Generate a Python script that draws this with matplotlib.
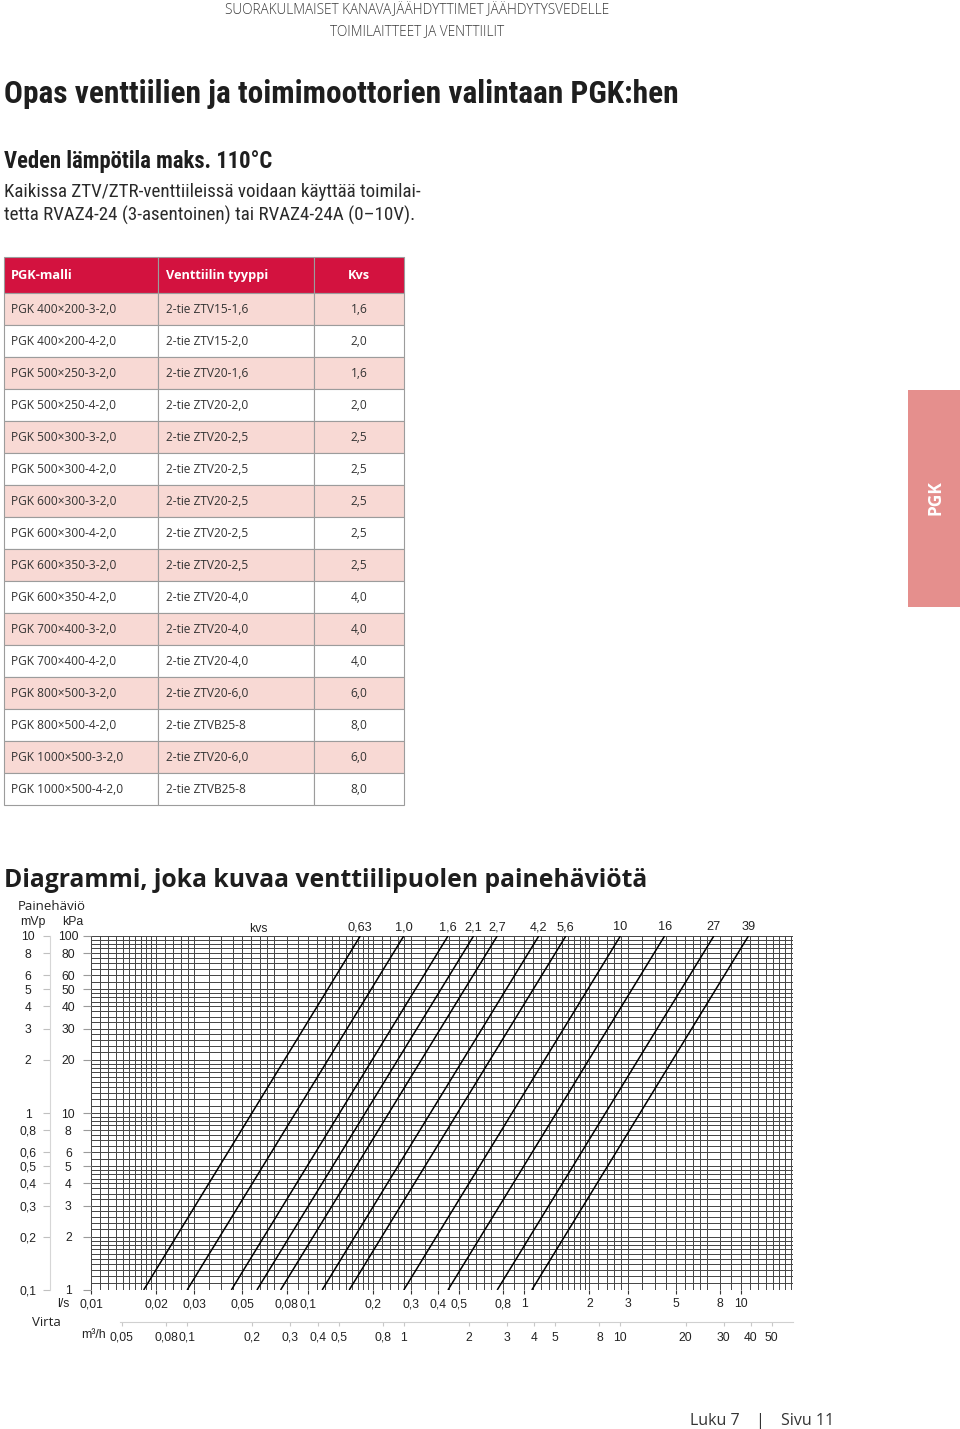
import matplotlib
matplotlib.use("Agg")
import matplotlib.pyplot as plt
from matplotlib import font_manager
from matplotlib.patches import Rectangle
from matplotlib.ticker import NullLocator
import numpy as np

# ---------------- data ----------------
header_line1 = "SUORAKULMAISET KANAVAJÄÄHDYTTIMET JÄÄHDYTYSVEDELLE"
header_line2 = "TOIMILAITTEET JA VENTTIILIT"
title_text = "Opas venttiilien ja toimimoottorien valintaan PGK:hen"
subtitle_text = "Veden lämpötila maks. 110°C"
body_lines = ["Kaikissa ZTV/ZTR-venttiileissä voidaan käyttää toimilai-",
              "tetta RVAZ4-24 (3-asentoinen) tai RVAZ4-24A (0–10V)."]

table_columns = ["PGK-malli", "Venttiilin tyyppi", "Kvs"]
pgk_models = ["PGK 400×200-3-2,0", "PGK 400×200-4-2,0", "PGK 500×250-3-2,0",
              "PGK 500×250-4-2,0", "PGK 500×300-3-2,0", "PGK 500×300-4-2,0",
              "PGK 600×300-3-2,0", "PGK 600×300-4-2,0", "PGK 600×350-3-2,0",
              "PGK 600×350-4-2,0", "PGK 700×400-3-2,0", "PGK 700×400-4-2,0",
              "PGK 800×500-3-2,0", "PGK 800×500-4-2,0", "PGK 1000×500-3-2,0",
              "PGK 1000×500-4-2,0"]
valve_types = ["2-tie ZTV15-1,6", "2-tie ZTV15-2,0", "2-tie ZTV20-1,6",
               "2-tie ZTV20-2,0", "2-tie ZTV20-2,5", "2-tie ZTV20-2,5",
               "2-tie ZTV20-2,5", "2-tie ZTV20-2,5", "2-tie ZTV20-2,5",
               "2-tie ZTV20-4,0", "2-tie ZTV20-4,0", "2-tie ZTV20-4,0",
               "2-tie ZTV20-6,0", "2-tie ZTVB25-8", "2-tie ZTV20-6,0",
               "2-tie ZTVB25-8"]
kvs_table = ["1,6", "2,0", "1,6", "2,0", "2,5", "2,5", "2,5", "2,5", "2,5",
             "4,0", "4,0", "4,0", "6,0", "8,0", "6,0", "8,0"]

side_tab = "PGK"
diagram_title = "Diagrammi, joka kuvaa venttiilipuolen painehäviötä"

kvs_curves = [0.63, 1.0, 1.6, 2.1, 2.7, 4.2, 5.6, 10, 16, 27, 39]
kvs_labels = ["0,63", "1,0", "1,6", "2,1", "2,7", "4,2", "5,6", "10", "16", "27", "39"]
dp_range_kpa = [1, 100]

flow_ls_ticks = [0.01, 0.02, 0.03, 0.05, 0.08, 0.1, 0.2, 0.3, 0.4, 0.5, 0.8,
                 1, 2, 3, 5, 8, 10]
flow_ls_labels = ["0,01", "0,02", "0,03", "0,05", "0,08", "0,1", "0,2", "0,3",
                  "0,4", "0,5", "0,8", "1", "2", "3", "5", "8", "10"]
flow_m3h_ticks = [0.05, 0.08, 0.1, 0.2, 0.3, 0.4, 0.5, 0.8, 1, 2, 3, 4, 5, 8,
                  10, 20, 30, 40, 50]
flow_m3h_labels = ["0,05", "0,08", "0,1", "0,2", "0,3", "0,4", "0,5", "0,8",
                   "1", "2", "3", "4", "5", "8", "10", "20", "30", "40", "50"]
dp_kpa_ticks = [100, 80, 60, 50, 40, 30, 20, 10, 8, 6, 5, 4, 3, 2, 1]
dp_kpa_labels = ["100", "80", "60", "50", "40", "30", "20", "10", "8", "6",
                 "5", "4", "3", "2", "1"]
dp_mvp_ticks = [10, 8, 6, 5, 4, 3, 2, 1, 0.8, 0.6, 0.5, 0.4, 0.3, 0.2, 0.1]
dp_mvp_labels = ["10", "8", "6", "5", "4", "3", "2", "1", "0,8", "0,6", "0,5",
                 "0,4", "0,3", "0,2", "0,1"]

# ---------------- fonts ----------------
names = {f.name for f in font_manager.fontManager.ttflist}


def pick(*fams):
    for f in fams:
        if f in names:
            return f
    return "DejaVu Sans"


COND = pick("Liberation Sans Narrow", "Roboto Condensed", "Open Sans Condensed",
            "DejaVu Sans Condensed", "Roboto")
SANS = pick("Open Sans", "Lato", "Noto Sans")
ARIAL = pick("Liberation Sans", "Arimo", "DejaVu Sans")

# ---------------- figure ----------------
W, H = 960, 1429
fig = plt.figure(figsize=(W / 100, H / 100), dpi=100)
page = fig.add_axes([0, 0, 1, 1])
page.set_xlim(0, W)
page.set_ylim(H, 0)
page.axis("off")
renderer = fig.canvas.get_renderer()


def fit(s, width_px, family, weight="normal"):
    t = page.text(0, 0, s, fontsize=10, family=family, weight=weight)
    w = t.get_window_extent(renderer=renderer).width
    t.remove()
    return 10 * width_px / w


DARK = "#1e1e1e"

# header
page.text(417, 14.5, header_line1, ha="center", va="baseline", family=SANS,
          weight="light", fontsize=9.8, color="#3a3a3a")
page.text(417, 35.5, header_line2, ha="center", va="baseline", family=SANS,
          weight="light", fontsize=9.8, color="#3a3a3a")

# title
page.text(4, 102.5, title_text, ha="left", va="baseline", family=COND,
          weight="bold", fontsize=fit(title_text, 674, COND, "bold"), color=DARK)
page.text(4, 168, subtitle_text, ha="left", va="baseline", family=COND,
          weight="bold", fontsize=fit(subtitle_text, 269, COND, "bold"), color=DARK)
fs_body = fit(body_lines[0], 414, COND)
page.text(4, 196.5, body_lines[0], ha="left", va="baseline", family=COND,
          fontsize=fs_body, color="#2a2a2a")
page.text(4, 221, body_lines[1], ha="left", va="baseline", family=COND,
          fontsize=fs_body, color="#2a2a2a")

# table
col_x = [4, 158, 314, 404]
head_top, head_h, row_h = 257, 36, 32
RED = "#D3123F"
PINK = "#F8D9D4"
EDGE = "#9c9c9c"
fs_head = fit(table_columns[1], 103, SANS, "bold")
fs_row = fit(pgk_models[0], 105, SANS)
for j in range(3):
    page.add_patch(Rectangle((col_x[j], head_top), col_x[j + 1] - col_x[j], head_h,
                             facecolor=RED, edgecolor=EDGE, lw=0.8))
page.text(11, head_top + head_h / 2, table_columns[0], ha="left", va="center",
          family=SANS, weight="bold", fontsize=fs_head, color="white")
page.text(166, head_top + head_h / 2, table_columns[1], ha="left", va="center",
          family=SANS, weight="bold", fontsize=fs_head, color="white")
page.text(359, head_top + head_h / 2, table_columns[2], ha="center", va="center",
          family=SANS, weight="bold", fontsize=fs_head, color="white")
for i, (m, v, k) in enumerate(zip(pgk_models, valve_types, kvs_table)):
    y0 = head_top + head_h + i * row_h
    fc = PINK if i % 2 == 0 else "white"
    for j in range(3):
        page.add_patch(Rectangle((col_x[j], y0), col_x[j + 1] - col_x[j], row_h,
                                 facecolor=fc, edgecolor=EDGE, lw=0.8))
    yc = y0 + row_h / 2
    page.text(11, yc, m, ha="left", va="center", family=SANS, fontsize=fs_row, color="#333333")
    page.text(166, yc, v, ha="left", va="center", family=SANS, fontsize=fs_row, color="#333333")
    page.text(359, yc, k, ha="center", va="center", family=SANS, fontsize=fs_row, color="#333333")

# side tab
page.add_patch(Rectangle((908, 390), 52, 217, facecolor="#E58F8D", edgecolor="none"))
page.text(935, 498, side_tab, rotation=90, ha="center", va="center", family=SANS,
          weight="bold", fontsize=12.5, color="white")

# diagram title & labels
page.text(4, 887, diagram_title, ha="left", va="baseline", family=SANS,
          weight="bold", fontsize=fit(diagram_title, 646, SANS, "bold"), color=DARK)
page.text(18, 910, "Painehäviö", ha="left", va="baseline", family=SANS,
          fontsize=fit("Painehäviö", 68, SANS), color="#222222")
page.text(33, 925, "mVp", ha="center", va="baseline", family=ARIAL, fontsize=8.8, color="#222222")
page.text(73, 925, "kPa", ha="center", va="baseline", family=ARIAL, fontsize=8.8, color="#222222")
page.text(258, 929, "kvs", ha="center", va="center", family=ARIAL, fontsize=8.8, color="#222222")
page.text(63, 1304, "l/s", ha="center", va="center", family=ARIAL, fontsize=8.8, color="#222222")
page.text(46, 1322, "Virta", ha="center", va="center", family=SANS,
          fontsize=fit("Virta", 29, SANS), color="#222222")
page.text(93, 1335, "m³/h", ha="center", va="center", family=ARIAL, fontsize=8.8, color="#222222")

# footer
fs_foot = fit("Luku 7", 50, SANS)
page.text(690, 1425, "Luku 7", ha="left", va="baseline", family=SANS, fontsize=fs_foot, color="#333333")
page.text(760, 1425, "|", ha="center", va="baseline", family=SANS, fontsize=fs_foot, color="#333333")
page.text(781, 1425, "Sivu 11", ha="left", va="baseline", family=SANS, fontsize=fs_foot, color="#333333")

# ---------------- chart ----------------
x0, x1, y0, y1 = 91, 793, 936, 1290
ax = fig.add_axes([x0 / W, 1 - y1 / H, (x1 - x0) / W, (y1 - y0) / H])
ax.set_xscale("log")
ax.set_yscale("log")
xmax = 17.4
ax.set_xlim(0.01, xmax)
ax.set_ylim(1, 100)
ax.patch.set_alpha(0)
for s in ax.spines.values():
    s.set_visible(False)


def log_grid(decades, steps, lo, hi):
    vals = []
    for d in decades:
        for a, b, st in steps:
            for m in np.arange(a, b - 1e-9, st):
                v = d * m
                if lo * 0.9999 <= v <= hi * 1.0001:
                    vals.append(v)
    return vals


xgrid = log_grid([0.01, 0.1, 1, 10],
                 [(1, 2, 0.1), (2, 3, 0.2), (3, 7, 0.5), (7, 10, 1)], 0.01, xmax)
ygrid = log_grid([1, 10, 100],
                 [(1, 2, 0.1), (2, 3, 0.2), (3, 5, 0.25), (5, 10, 0.5)], 1, 100)
GRID = "#484848"
for v in xgrid:
    ax.axvline(v, color=GRID, lw=0.72, zorder=1)
for v in ygrid:
    ax.axhline(v, color=GRID, lw=0.72, zorder=1)

dp = np.array(dp_range_kpa, dtype=float)
for k, lab in zip(kvs_curves, kvs_labels):
    q = k * np.sqrt(dp / 100.0) / 3.6  # l/s
    ax.plot(q, dp, color="black", lw=1.1, zorder=3, solid_capstyle="butt")
    ax.annotate(lab, (q[-1], dp[-1]), xytext=(0, 1.8), textcoords="offset points",
                ha="center", va="bottom", family=ARIAL, fontsize=9.2, color="#222222",
                annotation_clip=False)

ax.set_xticks(flow_ls_ticks, flow_ls_labels)
ax.xaxis.set_minor_locator(NullLocator())
ax.tick_params(axis="x", length=3, width=0.8, color="#333333", pad=3,
               labelsize=8.7, labelcolor="#222222")
for t in ax.get_xticklabels():
    t.set_family(ARIAL)

ax.set_yticks(dp_kpa_ticks, dp_kpa_labels)
ax.yaxis.set_minor_locator(NullLocator())
ax.tick_params(axis="y", length=5.5, width=0.8, color="#9a9a9a", pad=10.8,
               labelsize=8.7, labelcolor="#222222")
for t in ax.get_yticklabels():
    t.set_family(ARIAL)
    t.set_ha("center")

loc_m3h = -(1322 - y1) / (y1 - y0)
sx = ax.secondary_xaxis(loc_m3h, functions=(lambda q: q * 3.6, lambda m: m / 3.6))
sx.set_xticks(flow_m3h_ticks, flow_m3h_labels)
sx.xaxis.set_minor_locator(NullLocator())
sx.spines["bottom"].set_color("#d0d0d0")
sx.spines["bottom"].set_bounds(0.049, xmax * 3.6)
sx.tick_params(axis="x", length=3, width=0.8, color="#c8c8c8", pad=4,
               labelsize=8.7, labelcolor="#222222")
for t in sx.get_xticklabels():
    t.set_family(ARIAL)

loc_mvp = -(x0 - 50) / (x1 - x0)
sy = ax.secondary_yaxis(loc_mvp, functions=(lambda p: p / 10.0, lambda m: m * 10.0))
sy.set_yticks(dp_mvp_ticks, dp_mvp_labels)
sy.yaxis.set_minor_locator(NullLocator())
sy.spines["left"].set_color("#d6d6d6")
sy.tick_params(axis="y", length=5, width=0.8, color="#c0c0c0", pad=10.8,
               labelsize=8.7, labelcolor="#222222")
for t in sy.get_yticklabels():
    t.set_family(ARIAL)
    t.set_ha("center")

fig.savefig("out.png", dpi=100)
